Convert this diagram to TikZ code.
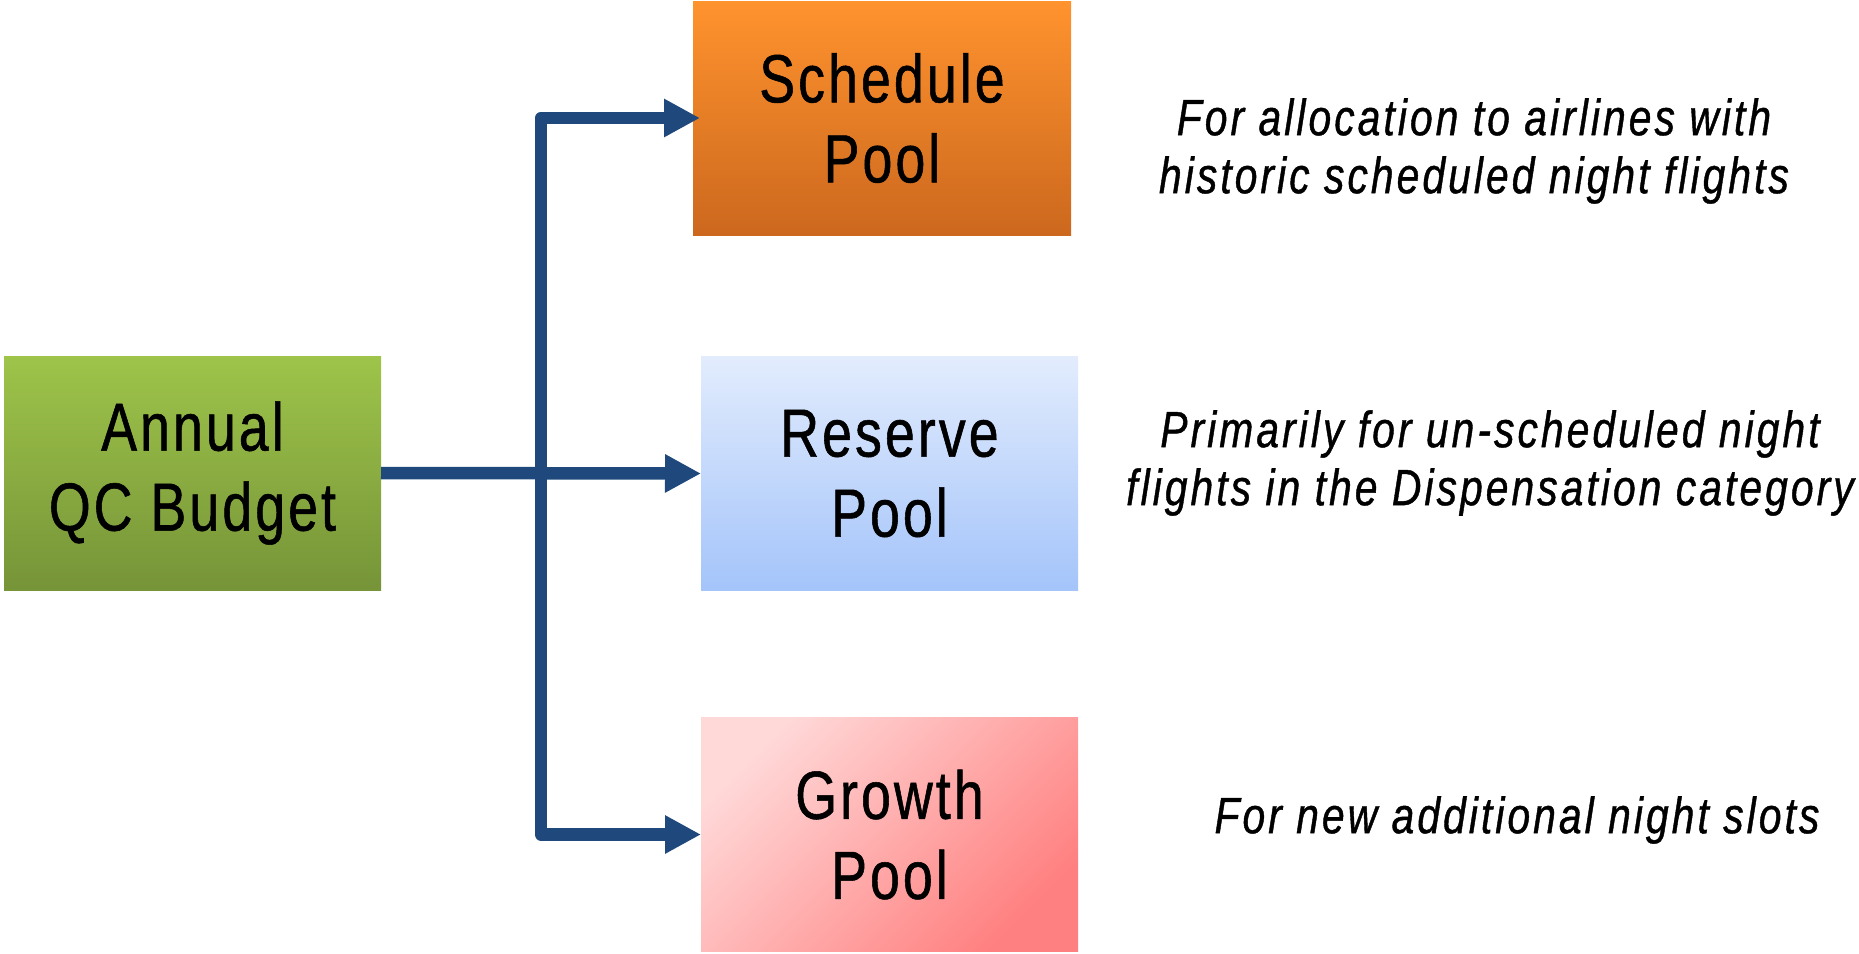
\documentclass[tikz,border=0pt]{standalone}
\usepackage{fontspec}
\usetikzlibrary{arrows.meta}
% condensed sans for box captions and notes
\newfontfamily\boxfont[FakeStretch=0.79,LetterSpace=4.5,FakeBold=0.8]{Liberation Sans}
\newfontfamily\notefont[FakeStretch=0.8,LetterSpace=6,FakeBold=0.8]{Liberation Sans}
\definecolor{connblue}{RGB}{31,73,125}
\definecolor{greentop}{RGB}{158,196,74}
\definecolor{greenbot}{RGB}{118,148,56}
\definecolor{orangetop}{RGB}{255,147,46}
\definecolor{orangebot}{RGB}{204,104,30}
\definecolor{bluetop}{RGB}{226,236,253}
\definecolor{bluebot}{RGB}{164,196,250}
\definecolor{pinklight}{RGB}{255,216,216}
\definecolor{pinkdark}{RGB}{255,128,128}
\begin{document}
\begin{tikzpicture}[x=1pt,y=-1pt,
  pool/.style={minimum width=377pt, minimum height=234pt, inner sep=0pt,
    outer sep=0pt, draw=none, align=center,
    font=\boxfont\fontsize{68}{80}\selectfont},
  note/.style={align=center, inner sep=0pt,
    font=\notefont\itshape\fontsize{51}{58}\selectfont},
  conn/.style={draw=connblue, line width=12.5pt, line join=round,
    >={Triangle[length=36pt,width=36pt]}}]
\useasboundingbox (0,0) rectangle (1859,953);

% boxes
\node[pool, top color=greentop, bottom color=greenbot] (budget) at (192.5,473) {Annual\\QC Budget};
\node[pool, minimum width=378pt, top color=orangetop, bottom color=orangebot] (sched) at (882,118) {Schedule\\Pool};
\node[pool, top color=bluetop, bottom color=bluebot] (reserve) at (889.5,473.5) {Reserve\\Pool};
\node[pool, top color=pinklight, bottom color=pinkdark, shading angle=45] (growth) at (889.5,834.5) {Growth\\Pool};

% descriptions
\node[note] (dsched) at (1474,151) {For allocation to airlines with\\historic scheduled night flights};
\node[note] (dreserve) at (1490,463) {Primarily for un-scheduled night\\flights in the Dispensation category};
\node[note] (dgrowth) at (1517,820) {For new additional night slots};

% connectors
\coordinate (busbot) at (541,834.5);
\draw[conn, ->] (budget.east) -- (reserve.west);
\draw[conn, <->] ([xshift=7pt]sched.west) -| (busbot) -- (growth.west);
\end{tikzpicture}
\end{document}
